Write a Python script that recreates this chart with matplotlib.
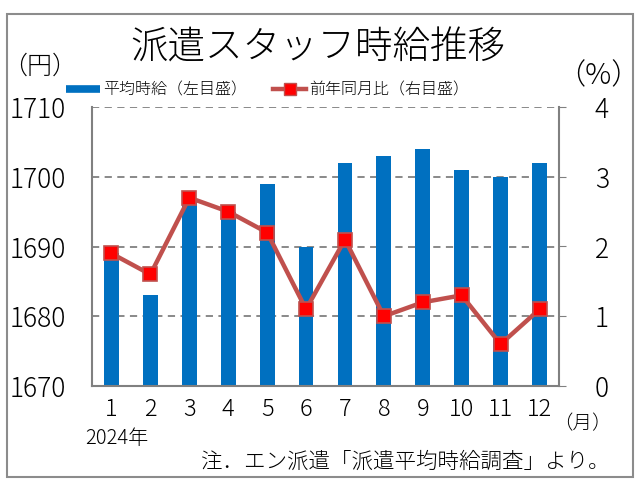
import matplotlib
matplotlib.use("Agg")
import matplotlib.pyplot as plt
from matplotlib.lines import Line2D
from matplotlib.patches import Rectangle
import numpy as np

plt.rcParams["font.family"] = ["Noto Sans CJK JP", "DejaVu Sans"]
plt.rcParams["font.weight"] = "light"

months = ['1', '2', '3', '4', '5', '6', '7', '8', '9', '10', '11', '12']
wage = [1689, 1683, 1697, 1695, 1699, 1690, 1702, 1703, 1704, 1701, 1700, 1702]
yoy = [1.9, 1.6, 2.7, 2.5, 2.2, 1.1, 2.1, 1.0, 1.2, 1.3, 0.6, 1.1]

bar_color = '#0070C0'
line_color = '#C0504D'
grid_color = '#808080'

W, H = 641, 483
fig = plt.figure(figsize=(W / 100, H / 100), dpi=100)

# outer frame
fig.patches.append(Rectangle((7 / W, 1 - 477 / H), 626 / W, 463 / H,
                             transform=fig.transFigure, fill=False,
                             edgecolor='#8c8c8c', lw=1.5))

ax = fig.add_axes([92 / W, 1 - 386 / H, (559 - 92) / W, (386 - 107) / H])
x = np.arange(len(months))
ax.bar(x, wage, width=0.38, color=bar_color, zorder=2)
ax.set_ylim(1670, 1710)
ax.set_yticks([1670, 1680, 1690, 1700, 1710])
ax.set_xlim(-0.5, 11.5)
ax.set_xticks(x)
ax.set_xticklabels(months, fontsize=17)
ax.tick_params(axis='x', length=0, pad=8)
ax.tick_params(axis='y', length=0, labelsize=19, pad=19)
for v in [1680, 1690, 1700, 1710]:
    ax.axhline(v, color=grid_color, ls=(0, (4, 3)), lw=1.3, zorder=1)
for s in ['top', 'right']:
    ax.spines[s].set_visible(False)
ax.spines['left'].set_color(grid_color)
ax.spines['bottom'].set_color(grid_color)
ax.spines['left'].set_linewidth(1.5)
ax.spines['bottom'].set_linewidth(1.5)

ax2 = ax.twinx()
ax2.plot(x, yoy, color=line_color, lw=3.2, marker='s', markersize=10,
         markerfacecolor='#FF0000', markeredgecolor=line_color,
         markeredgewidth=1.2, zorder=3)
ax2.set_ylim(0, 4)
ax2.set_yticks([0, 1, 2, 3, 4])
ax2.tick_params(axis='y', length=5, color=grid_color, labelsize=19, pad=26)
for lbl in ax2.get_yticklabels():
    lbl.set_horizontalalignment('center')
for s in ['top', 'left', 'bottom']:
    ax2.spines[s].set_visible(False)
ax2.spines['right'].set_color(grid_color)
ax2.spines['right'].set_linewidth(1.5)

fig.text(318 / W, 1 - 48 / H, '派遣スタッフ時給推移', fontsize=27,
         ha='center', va='center')
fig.text(40 / W, 1 - 66 / H, '（円）', fontsize=18, ha='center', va='center')
fig.text(598 / W, 1 - 76 / H, '（%）', fontsize=21, ha='center', va='center')
fig.text(582 / W, 1 - 424 / H, '（月）', fontsize=14, ha='center', va='center')
fig.text(117 / W, 1 - 439 / H, '2024年', fontsize=14.5, ha='center', va='center')
fig.text(610 / W, 1 - 462 / H, '注．エン派遣「派遣平均時給調査」より。',
         fontsize=15.5, ha='right', va='center')

handles = [Line2D([], [], color=bar_color, lw=5.5, solid_capstyle='butt'),
           Line2D([], [], color=line_color, lw=3.2, marker='s', markersize=9,
                  markerfacecolor='#FF0000', markeredgecolor=line_color)]
labels = ['平均時給（左目盛）', '前年同月比（右目盛）']
fig.legend(handles, labels, loc='center', bbox_to_anchor=(268 / W, 1 - 90 / H),
           ncol=2, frameon=False, fontsize=11.5, handlelength=2.1,
           handletextpad=0.2, columnspacing=1.6)

fig.savefig('out.png', dpi=100)
